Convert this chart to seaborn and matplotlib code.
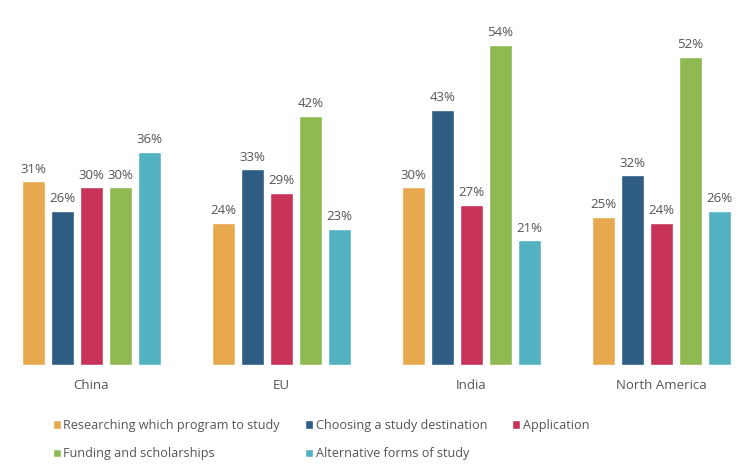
import matplotlib
matplotlib.use("Agg")
from matplotlib import pyplot as plt
import seaborn as sns
import pandas as pd

regions = ["China", "EU", "India", "North America"]
stages = ["Researching which program to study", "Choosing a study destination",
          "Application", "Funding and scholarships", "Alternative forms of study"]
researching = [31, 24, 30, 25]
choosing = [26, 33, 43, 32]
application = [30, 29, 27, 24]
funding = [30, 42, 54, 52]
alternative = [36, 23, 21, 26]
colors = ["#E8A94E", "#2E5C82", "#C8335A", "#8FBA52", "#52B2C2"]

rows = []
for stage, vals in zip(stages, [researching, choosing, application, funding, alternative]):
    for region, v in zip(regions, vals):
        rows.append({"region": region, "stage": stage, "share": v})
df = pd.DataFrame(rows)

sns.set_style("white")
plt.rcParams["font.family"] = ["Open Sans", "DejaVu Sans"]

fig = plt.figure(figsize=(7.5, 4.67), dpi=100)
ax = fig.add_axes([0, (467 - 365) / 467, 1, 365 / 467])

sns.barplot(data=df, x="region", y="share", hue="stage", order=regions, hue_order=stages,
            palette=colors, width=0.763, gap=0.22, saturation=1, ax=ax)

for c in ax.containers:
    ax.bar_label(c, fmt="%d%%", padding=4, fontsize=9.5, color="#555555")

ax.set_xlim(-91.5 / 190, (750 - 91.5) / 190)
ax.set_ylim(0, 365 / 5.93)
ax.set_xlabel("")
ax.set_ylabel("")
ax.set_yticks([])
ax.tick_params(axis="x", length=0, pad=10, labelsize=9.5, labelcolor="#555555")
sns.despine(ax=ax, left=True, bottom=True)

handles, labels = ax.get_legend_handles_labels()
order = [0, 3, 1, 4, 2]
ax.legend([handles[i] for i in order], [labels[i] for i in order], ncol=3,
          loc="upper left", bbox_to_anchor=(0.055, 0.127), bbox_transform=fig.transFigure,
          frameon=False, fontsize=9.1, labelcolor="#555555", handlelength=0.63,
          handleheight=0.63, handletextpad=0.2, columnspacing=2.0, labelspacing=1.2)

fig.savefig("out.png", dpi=100)
